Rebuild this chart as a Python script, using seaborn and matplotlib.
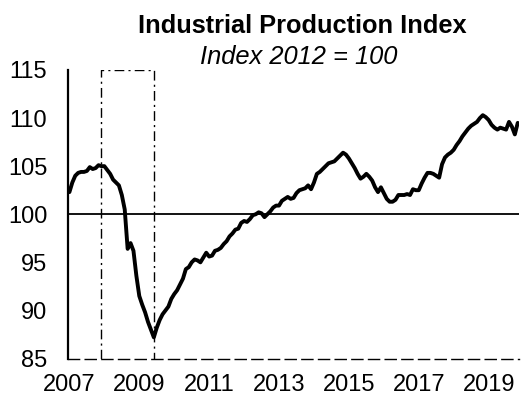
import numpy as np
import pandas as pd
import matplotlib
matplotlib.use("Agg")
import matplotlib.pyplot as plt
import seaborn as sns

# Industrial production index (2012 = 100), monthly, Jan 2007 - Nov 2019
ip_2007 = [102.3, 103.3, 104.0, 104.3, 104.4, 104.4, 104.5, 104.9, 104.7, 104.8, 105.1, 105.0]
ip_2008 = [105.0, 104.6, 104.2, 103.6, 103.3, 103.0, 102.0, 100.5, 96.4, 97.0, 96.2, 93.6]
ip_2009 = [91.5, 90.6, 89.8, 88.8, 88.0, 87.2, 88.2, 89.0, 89.6, 90.0, 90.4, 91.2]
ip_2010 = [91.7, 92.1, 92.7, 93.3, 94.3, 94.5, 95.0, 95.3, 95.2, 95.0, 95.5, 96.0]
ip_2011 = [95.6, 95.7, 96.2, 96.3, 96.5, 96.9, 97.2, 97.7, 98.0, 98.4, 98.5, 99.1]
ip_2012 = [99.3, 99.2, 99.5, 99.9, 100.0, 100.2, 100.1, 99.7, 100.0, 100.3, 100.7, 100.9]
ip_2013 = [100.9, 101.4, 101.6, 101.8, 101.6, 101.7, 102.2, 102.5, 102.6, 102.7, 103.0, 102.6]
ip_2014 = [103.3, 104.2, 104.4, 104.7, 105.0, 105.3, 105.4, 105.5, 105.8, 106.1, 106.4, 106.2]
ip_2015 = [105.8, 105.3, 104.8, 104.2, 103.7, 103.9, 104.2, 103.9, 103.5, 102.8, 102.3, 102.8]
ip_2016 = [102.2, 101.6, 101.3, 101.3, 101.5, 102.0, 102.0, 102.0, 102.1, 102.0, 102.6, 102.5]
ip_2017 = [102.5, 103.2, 103.8, 104.3, 104.3, 104.2, 104.0, 103.8, 105.2, 105.9, 106.2, 106.4]
ip_2018 = [106.7, 107.2, 107.6, 108.1, 108.5, 108.9, 109.2, 109.4, 109.6, 110.0, 110.3, 110.1]
ip_2019 = [109.8, 109.3, 109.0, 108.8, 109.0, 108.9, 108.8, 109.6, 109.1, 108.3, 109.5]

start_year = 2007
recession_start = 2007 + 11 / 12   # Dec 2007
recession_end = 2009 + 5 / 12      # Jun 2009
baseline = 100
y_ticks = [85, 90, 95, 100, 105, 110, 115]
x_ticks = [2007, 2009, 2011, 2013, 2015, 2017, 2019]

series = (ip_2007 + ip_2008 + ip_2009 + ip_2010 + ip_2011 + ip_2012 + ip_2013
          + ip_2014 + ip_2015 + ip_2016 + ip_2017 + ip_2018 + ip_2019)
df = pd.DataFrame({
    "date": start_year + np.arange(len(series)) / 12,
    "index": series,
})

sns.set_theme(style="white")
plt.rcParams["font.family"] = ["Liberation Sans", "DejaVu Sans"]

fig = plt.figure(figsize=(5.22, 3.98), dpi=100)
ax = fig.add_axes([0.1303, 0.0992, 0.8640, 0.7250])

# recession box
ax.plot([recession_start, recession_start, recession_end, recession_end],
        [y_ticks[0], y_ticks[-1], y_ticks[-1], y_ticks[0]],
        color="black", lw=1.0, ls=(0, (7, 3, 1.5, 3)), zorder=1)
ax.axhline(baseline, color="black", lw=1.3, zorder=2)

sns.lineplot(data=df, x="date", y="index", ax=ax, color="black", lw=2.8, zorder=3)

ax.set_xlim(2006.96, 2019.87)
ax.set_ylim(y_ticks[0], y_ticks[-1])
ax.set_xticks(x_ticks)
ax.set_yticks(y_ticks)
ax.set_xticklabels([str(t) for t in x_ticks])
ax.set_yticklabels([str(t) for t in y_ticks])
ax.tick_params(axis="both", length=0, labelsize=17, colors="black")
ax.tick_params(axis="y", pad=15)
ax.tick_params(axis="x", pad=11)
ax.set_xlabel("")
ax.set_ylabel("")

for side in ["top", "right"]:
    ax.spines[side].set_visible(False)
ax.spines["left"].set_color("black")
ax.spines["left"].set_linewidth(1.6)
ax.spines["bottom"].set_color("black")
ax.spines["bottom"].set_linewidth(1.0)
ax.spines["bottom"].set_linestyle((0, (8, 4)))

fig.text(0.579, 1 - 26 / 398, "Industrial Production Index", ha="center", va="center",
         fontsize=18.3, fontweight="bold", color="black")
fig.text(0.573, 1 - 57 / 398, "Index 2012 = 100", ha="center", va="center",
         fontsize=18.4, fontstyle="italic", color="black")

fig.savefig("out.png", dpi=100, facecolor="white")
